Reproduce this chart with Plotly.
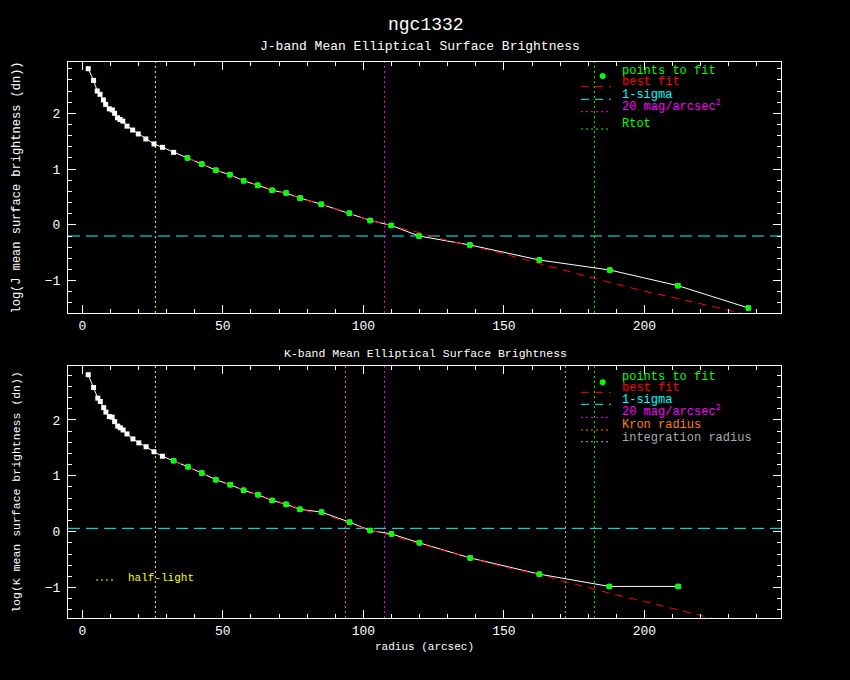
import plotly.graph_objects as go
from plotly.subplots import make_subplots

# J band profile (radius in arcsec, log surface brightness in dn)
r_j = [2.1, 4.0, 5.3, 6.3, 7.5, 8.3, 9.6, 10.7, 11.5, 12.5,
       13.4, 14.4, 15.9, 17.9, 19.9, 22.6, 25.5, 28.5, 32.5, 37.4,
       42.5, 47.5, 52.5, 57.4, 62.4, 67.5, 72.5, 77.5, 85.0, 95.0,
       102.4, 109.9, 119.8, 137.9, 162.6, 187.7, 211.9, 237.0]
sb_j = [2.80, 2.59, 2.40, 2.34, 2.24, 2.16, 2.08, 2.06, 2.00, 1.92,
        1.89, 1.86, 1.77, 1.70, 1.63, 1.54, 1.45, 1.39, 1.30, 1.20,
        1.09, 0.98, 0.90, 0.79, 0.71, 0.62, 0.57, 0.48, 0.37, 0.21,
        0.08, -0.01, -0.20, -0.36, -0.63, -0.81, -1.09, -1.49]
fit_start_j = 19
fit_r_j = [37.4, 50, 60, 70, 80, 90, 100, 110, 120, 130, 140,
           150, 160, 170, 180, 190, 200, 210, 220, 230, 240]
fit_sb_j = [1.20, 0.94, 0.75, 0.59, 0.44, 0.29, 0.12, -0.02, -0.14, -0.28, -0.40,
            -0.52, -0.66, -0.80, -0.93, -1.06, -1.19, -1.30, -1.41, -1.53, -1.65]
sigma_j = -0.20

# K band profile
r_k = [2.1, 4.0, 5.5, 6.4, 7.6, 8.4, 9.6, 10.6, 11.5, 12.6,
       13.5, 14.5, 15.9, 18.0, 20.1, 22.7, 25.5, 28.5, 32.5, 37.6,
       42.5, 47.5, 52.6, 57.4, 62.5, 67.5, 72.5, 77.4, 85.1, 95.1,
       102.4, 110.0, 119.9, 138.0, 162.6, 187.5, 212.0]
sb_k = [2.81, 2.58, 2.39, 2.33, 2.22, 2.14, 2.06, 2.05, 1.97, 1.89,
        1.86, 1.82, 1.75, 1.66, 1.59, 1.52, 1.43, 1.35, 1.27, 1.16,
        1.05, 0.93, 0.84, 0.74, 0.66, 0.56, 0.49, 0.40, 0.35, 0.17,
        0.02, -0.04, -0.20, -0.47, -0.76, -0.98, -0.98]
fit_start_k = 18
fit_r_k = [32.5, 40, 50, 60, 70, 80, 90, 100, 110, 120, 130,
           140, 150, 160, 170, 180, 190, 200, 210, 220, 230]
fit_sb_k = [1.27, 1.11, 0.89, 0.70, 0.53, 0.37, 0.24, 0.06, -0.07, -0.22, -0.36,
            -0.50, -0.63, -0.74, -0.87, -1.01, -1.13, -1.25, -1.38, -1.50, -1.62]
sigma_k = 0.06

# radii marked with vertical lines
r_half = 26.0
r_20mag = 107.5
r_tot = 182.2
r_kron = 93.6
r_int = 171.9

W, H = 850, 680
L, R, T, B = 68, 69, 62, 62
FONT = "Liberation Mono"
GREEN, RED, CYAN, MAGENTA = "#00ff00", "#ff0000", "#00ffff", "#ff00ff"
YELLOW, ORANGE, GRAY = "#ffff00", "#ff8000", "#aaaaaa"
DOT = "2px,3px"
DASH = "8px,6px"


def px_x(x):
    return (x - L) / (W - L - R)


def px_y(y):
    return (H - B - y) / (H - T - B)


fig = make_subplots(rows=2, cols=1)

panels = [(r_j, sb_j, fit_start_j, fit_r_j, fit_sb_j), (r_k, sb_k, fit_start_k, fit_r_k, fit_sb_k)]
for i, (r, sb, start, fr, fsb) in enumerate(panels, start=1):
    fig.add_trace(go.Scatter(x=r, y=sb, mode="lines+markers",
                             line=dict(color="white", width=1),
                             marker=dict(symbol="square", size=5, color="white")),
                  row=i, col=1)
    fig.add_trace(go.Scatter(x=fr, y=fsb, mode="lines",
                             line=dict(color=RED, width=1, dash=DASH)),
                  row=i, col=1)
    fig.add_trace(go.Scatter(x=r[start:], y=sb[start:], mode="markers",
                             marker=dict(symbol="circle", size=6, color=GREEN)),
                  row=i, col=1)

# reference lines
fig.add_hline(y=sigma_j, line=dict(color=CYAN, width=1, dash="12px,6px"), layer="below", row=1, col=1)
fig.add_hline(y=sigma_k, line=dict(color=CYAN, width=1, dash="12px,6px"), layer="below", row=2, col=1)
for xv, c in [(r_half, YELLOW), (r_20mag, MAGENTA), (r_tot, GREEN)]:
    fig.add_vline(x=xv, line=dict(color=c, width=1, dash=DOT), layer="below", row=1, col=1)
for xv, c in [(r_half, YELLOW), (r_kron, ORANGE), (r_20mag, MAGENTA), (r_int, GRAY), (r_tot, GREEN)]:
    fig.add_vline(x=xv, line=dict(color=c, width=1, dash=DOT), layer="below", row=2, col=1)

axis_common = dict(showline=True, linecolor="white", linewidth=1, mirror="ticks",
                   ticks="inside", ticklen=8, tickcolor="white", showgrid=False,
                   zeroline=False, tickfont=dict(family=FONT, size=13, color="white"))

fig.update_xaxes(range=[-5.1, 248.6], tick0=0, dtick=50,
                 minor=dict(ticks="inside", ticklen=4, dtick=10, tick0=0, tickcolor="white"),
                 **axis_common)
fig.update_yaxes(tick0=0, dtick=1, ticklabelstandoff=4,
                 minor=dict(ticks="inside", ticklen=4, dtick=0.2, tick0=0, tickcolor="white"),
                 **axis_common)

fig.update_yaxes(range=[-1.58, 2.92], domain=[0.5486, 1.0], row=1, col=1,
                 title=dict(text="log(J mean surface brightness (dn))", standoff=21,
                            font=dict(family=FONT, size=12, color="white")))
fig.update_yaxes(range=[-1.545, 2.965], domain=[0.0, 0.4532], row=2, col=1,
                 title=dict(text="log(K mean surface brightness (dn))", standoff=21,
                            font=dict(family=FONT, size=11.5, color="white")))
fig.update_xaxes(row=2, col=1,
                 title=dict(text="radius (arcsec)", standoff=4,
                            font=dict(family=FONT, size=11, color="white")))

annotations = [
    ("ngc1332", 425.5, 25, 18, "white", "center"),
    ("J-band Mean Elliptical Surface Brightness", 420, 46.5, 13, "white", "center"),
    ("K-band Mean Elliptical Surface Brightness", 425, 353, 11.5, "white", "center"),
    # top legend
    ("points to fit", 620, 71, 12, GREEN, "left"),
    ("best fit", 620, 82, 12, RED, "left"),
    ("1-sigma", 620, 95, 12, CYAN, "left"),
    ("20 mag/arcsec<sup>2</sup>", 620, 106, 12, MAGENTA, "left"),
    ("Rtot", 620, 124, 12, GREEN, "left"),
    # bottom legend
    ("points to fit", 620, 377, 12, GREEN, "left"),
    ("best fit", 620, 388, 12, RED, "left"),
    ("1-sigma", 620, 400, 12, CYAN, "left"),
    ("20 mag/arcsec<sup>2</sup>", 620, 411, 12, MAGENTA, "left"),
    ("Kron radius", 620, 425, 12, ORANGE, "left"),
    ("integration radius", 620, 438, 12, GRAY, "left"),
    ("half-light", 126, 577.5, 11, YELLOW, "left"),
]
for text, x, y, size, color, anchor in annotations:
    fig.add_annotation(text=text, x=px_x(x), y=px_y(y), xref="paper", yref="paper",
                       xanchor=anchor, yanchor="middle", showarrow=False,
                       font=dict(family=FONT, size=size, color=color))

# legend line samples
samples = [
    (581, 611, 86.7, RED, DASH),
    (581, 611, 99.3, CYAN, DASH),
    (581, 611, 111.7, MAGENTA, DOT),
    (581, 611, 129, GREEN, DOT),
    (581, 611, 392.3, RED, DASH),
    (581, 611, 404.3, CYAN, DASH),
    (581, 611, 417.3, MAGENTA, DOT),
    (581, 611, 430, ORANGE, DOT),
    (581, 611, 441.7, GRAY, DOT),
    (96, 116, 580, YELLOW, DOT),
]
for x0, x1, y, color, dash in samples:
    fig.add_shape(type="line", xref="paper", yref="paper",
                  x0=px_x(x0), x1=px_x(x1), y0=px_y(y), y1=px_y(y),
                  line=dict(color=color, width=1, dash=dash))
for cx, cy in [(602.7, 76), (602.7, 382.3)]:
    fig.add_shape(type="circle", xref="paper", yref="paper",
                  x0=px_x(cx - 3), x1=px_x(cx + 3), y0=px_y(cy + 3), y1=px_y(cy - 3),
                  fillcolor=GREEN, line=dict(color=GREEN, width=0))

fig.update_layout(width=W, height=H, margin=dict(l=L, r=R, t=T, b=B),
                  paper_bgcolor="black", plot_bgcolor="black", showlegend=False,
                  font=dict(family=FONT, color="white"))

# drop the browser's default page margin so the figure sits at the top-left corner
fig.write_html("out.html", config={"displayModeBar": False},
               post_script="document.body.style.margin='0';document.body.style.background='black';")
